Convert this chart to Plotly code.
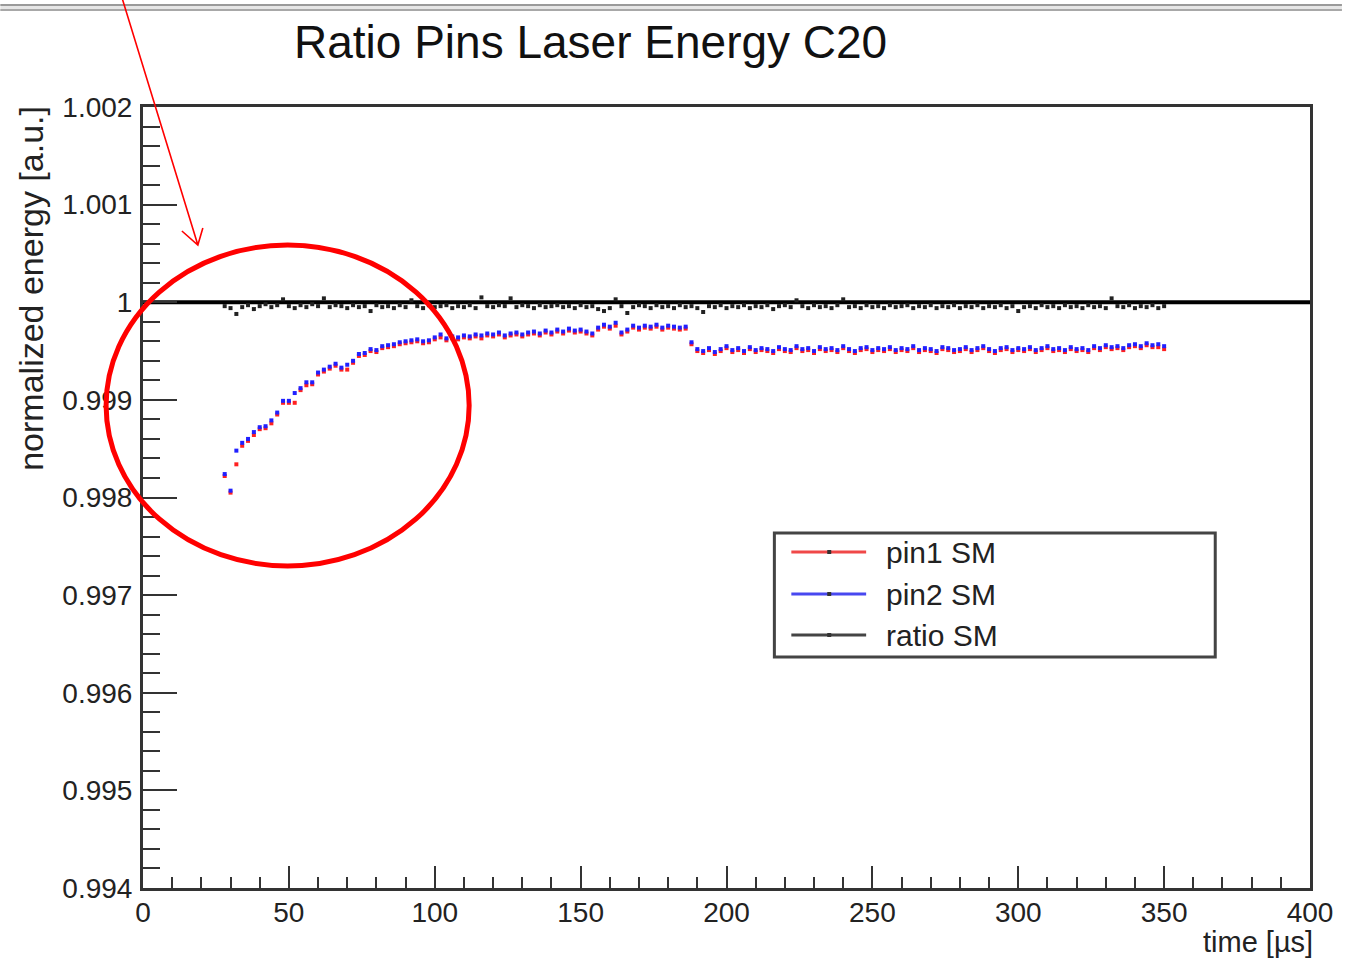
import plotly.graph_objects as go

# ---------------- data ----------------
time_us = list(range(28, 351, 2))

pin1_sm = [
    0.99822, 0.99805, 0.99834, 0.99853, 0.99858, 0.99864, 0.99870, 0.99871, 0.99876, 0.99885,
    0.99897, 0.99897, 0.99897, 0.99910, 0.99915, 0.99916, 0.99926, 0.99929, 0.99932, 0.99935,
    0.99931, 0.99931, 0.99938, 0.99945, 0.99946, 0.99950, 0.99949, 0.99953, 0.99954, 0.99955,
    0.99957, 0.99958, 0.99959, 0.99960, 0.99958, 0.99959, 0.99962, 0.99964, 0.99961, 0.99963,
    0.99962, 0.99964, 0.99963, 0.99965, 0.99963, 0.99966, 0.99965, 0.99967, 0.99964, 0.99966,
    0.99967, 0.99965, 0.99967, 0.99968, 0.99966, 0.99969, 0.99967, 0.99970, 0.99968, 0.99971,
    0.99969, 0.99970, 0.99968, 0.99966, 0.99972, 0.99975, 0.99973, 0.99976, 0.99967, 0.99970,
    0.99974, 0.99972, 0.99974, 0.99973, 0.99975, 0.99972, 0.99974, 0.99973, 0.99972, 0.99973,
    0.99957, 0.99950, 0.99948, 0.99951, 0.99947, 0.99950, 0.99953, 0.99949, 0.99951, 0.99948,
    0.99952, 0.99949, 0.99951, 0.99950, 0.99948, 0.99952, 0.99950, 0.99949, 0.99953, 0.99950,
    0.99951, 0.99948, 0.99952, 0.99950, 0.99951, 0.99949, 0.99953, 0.99950, 0.99948, 0.99951,
    0.99952, 0.99949, 0.99951, 0.99950, 0.99952, 0.99949, 0.99951, 0.99950, 0.99953, 0.99949,
    0.99951, 0.99950, 0.99948, 0.99952, 0.99951, 0.99949, 0.99950, 0.99952, 0.99949, 0.99951,
    0.99953, 0.99950, 0.99948, 0.99951, 0.99952, 0.99949, 0.99951, 0.99950, 0.99952, 0.99949,
    0.99951, 0.99953, 0.99950, 0.99951, 0.99949, 0.99952, 0.99950, 0.99951, 0.99949, 0.99953,
    0.99951, 0.99954, 0.99952, 0.99953, 0.99951, 0.99954, 0.99955, 0.99953, 0.99956, 0.99954,
    0.99954, 0.99952,
]

pin2_sm = [
    0.99824, 0.99807, 0.99848, 0.99856, 0.99860, 0.99867, 0.99872, 0.99873, 0.99879, 0.99887,
    0.99899, 0.99899, 0.99907, 0.99912, 0.99918, 0.99918, 0.99928, 0.99931, 0.99934, 0.99937,
    0.99933, 0.99936, 0.99940, 0.99947, 0.99948, 0.99952, 0.99951, 0.99955, 0.99956, 0.99957,
    0.99959, 0.99960, 0.99961, 0.99962, 0.99960, 0.99961, 0.99964, 0.99967, 0.99963, 0.99965,
    0.99964, 0.99966, 0.99965, 0.99967, 0.99966, 0.99968, 0.99967, 0.99969, 0.99966, 0.99968,
    0.99969, 0.99967, 0.99969, 0.99970, 0.99968, 0.99971, 0.99969, 0.99972, 0.99970, 0.99973,
    0.99971, 0.99972, 0.99970, 0.99968, 0.99974, 0.99977, 0.99975, 0.99979, 0.99969, 0.99972,
    0.99976, 0.99974, 0.99976, 0.99975, 0.99977, 0.99974, 0.99976, 0.99975, 0.99974, 0.99975,
    0.99959, 0.99952, 0.99950, 0.99953, 0.99949, 0.99952, 0.99955, 0.99951, 0.99953, 0.99950,
    0.99954, 0.99951, 0.99953, 0.99952, 0.99950, 0.99954, 0.99952, 0.99951, 0.99955, 0.99952,
    0.99953, 0.99950, 0.99954, 0.99952, 0.99953, 0.99951, 0.99955, 0.99952, 0.99950, 0.99953,
    0.99954, 0.99951, 0.99953, 0.99952, 0.99954, 0.99951, 0.99953, 0.99952, 0.99955, 0.99951,
    0.99953, 0.99952, 0.99950, 0.99954, 0.99953, 0.99951, 0.99952, 0.99954, 0.99951, 0.99953,
    0.99955, 0.99952, 0.99950, 0.99953, 0.99954, 0.99951, 0.99953, 0.99952, 0.99954, 0.99951,
    0.99953, 0.99955, 0.99952, 0.99953, 0.99951, 0.99954, 0.99952, 0.99953, 0.99951, 0.99955,
    0.99953, 0.99956, 0.99954, 0.99955, 0.99953, 0.99956, 0.99957, 0.99955, 0.99958, 0.99956,
    0.99957, 0.99955,
]

ratio_sm = [
    0.99996, 0.99994, 0.99988, 0.99995, 0.99997, 0.99993, 0.99996, 0.99998, 0.99995, 0.99997,
    1.00003, 0.99996, 0.99994, 0.99997, 0.99995, 0.99998, 0.99996, 1.00004, 0.99995, 0.99997,
    0.99996, 0.99994, 0.99997, 0.99995, 0.99996, 0.99991, 0.99997, 0.99995, 0.99996, 0.99994,
    0.99997, 0.99995, 1.00002, 0.99996, 0.99994, 0.99997, 0.99995, 0.99996, 0.99997, 0.99994,
    0.99996, 0.99995, 0.99997, 0.99994, 1.00005, 0.99996, 0.99995, 0.99997, 0.99996, 1.00004,
    0.99995, 0.99997, 0.99996, 0.99994, 0.99997, 0.99995, 0.99996, 0.99997, 0.99995, 0.99996,
    0.99994, 0.99997, 0.99995, 0.99996, 0.99993, 0.99991, 0.99994, 1.00003, 0.99996, 0.99989,
    0.99995, 0.99997, 0.99996, 0.99994, 0.99997, 0.99995, 0.99996, 0.99994, 0.99997, 0.99995,
    0.99996, 0.99994, 0.99990, 0.99996, 0.99995, 0.99997, 0.99994, 0.99996, 0.99995, 0.99997,
    0.99994, 0.99996, 0.99995, 0.99997, 0.99993, 0.99996, 0.99997, 0.99995, 1.00002, 0.99996,
    0.99994, 0.99997, 0.99995, 0.99996, 0.99994, 0.99997, 1.00003, 0.99995, 0.99996, 0.99994,
    0.99997, 0.99995, 0.99996, 0.99994, 0.99997, 0.99995, 0.99996, 0.99997, 0.99994, 0.99996,
    0.99995, 0.99997, 0.99994, 0.99996, 0.99995, 0.99997, 0.99994, 0.99996, 0.99995, 0.99997,
    0.99994, 0.99996, 0.99995, 0.99997, 0.99994, 0.99996, 0.99991, 0.99995, 0.99996, 0.99994,
    0.99997, 0.99995, 0.99996, 0.99994, 0.99997, 0.99995, 0.99996, 0.99994, 0.99997, 0.99995,
    0.99996, 0.99994, 1.00004, 0.99996, 0.99995, 0.99997, 0.99994, 0.99996, 0.99995, 0.99997,
    0.99994, 0.99996,
]

reference_level = 1.0
x_range = [0, 400]
y_range = [0.994, 1.002]

series_names = ["pin1 SM", "pin2 SM", "ratio SM"]
series_colors = ["#ff2020", "#2020ff", "#222222"]
legend_line_colors = ["#f04848", "#4848f0", "#444444"]

title_text = "Ratio Pins Laser Energy C20"
x_title = "time [µs]"
y_title = "normalized energy [a.u.]"

FONT = "Liberation Sans, Arial, Helvetica, sans-serif"

# ---------------- figure ----------------
W, H = 1345, 968
L, R, T, B = 143, 32, 107, 80
PW, PH = W - L - R, H - T - B


def px(xp):
    return (xp - L) / PW


def py(yp):
    return (H - B - yp) / PH


fig = go.Figure()

fig.add_trace(go.Scatter(
    x=x_range, y=[reference_level, reference_level], mode="lines",
    line=dict(color="black", width=4), showlegend=False, hoverinfo="skip"))

for name, vals, col in zip(series_names, [pin1_sm, pin2_sm, ratio_sm], series_colors):
    fig.add_trace(go.Scatter(
        x=time_us, y=vals, mode="markers", name=name,
        marker=dict(symbol="square", size=4, color=col, line=dict(width=0)),
        showlegend=False))

shapes = []
annotations = []

# screenshot border lines at the very top
shapes.append(dict(type="rect", xref="paper", yref="paper", x0=px(0), x1=px(W),
                   y0=py(11), y1=py(4), fillcolor="#e6e6e6", line=dict(width=0), layer="above"))
shapes.append(dict(type="line", xref="paper", yref="paper", x0=px(0), x1=px(W),
                   y0=py(5), y1=py(5), line=dict(color="#9a9a9a", width=2)))
shapes.append(dict(type="line", xref="paper", yref="paper", x0=px(0), x1=px(W),
                   y0=py(10), y1=py(10), line=dict(color="#a8a8a8", width=2)))

# legend box (drawn manually to mimic ROOT TLegend)
shapes.append(dict(type="rect", xref="paper", yref="paper", x0=px(776), x1=px(1218),
                   y0=py(657), y1=py(533), fillcolor="white",
                   line=dict(color="#444444", width=3), layer="above"))
legend_rows = [552, 594, 635]
for name, col, yrow in zip(series_names, legend_line_colors, legend_rows):
    shapes.append(dict(type="line", xref="paper", yref="paper", x0=px(793), x1=px(868),
                       y0=py(yrow), y1=py(yrow), line=dict(color=col, width=3), layer="above"))
    shapes.append(dict(type="rect", xref="paper", yref="paper", x0=px(829), x1=px(833),
                       y0=py(yrow + 2), y1=py(yrow - 2), fillcolor="#333333",
                       line=dict(width=0), layer="above"))
    annotations.append(dict(xref="paper", yref="paper", x=px(886), y=py(yrow),
                            xanchor="left", yanchor="middle", text=name, showarrow=False,
                            font=dict(family=FONT, size=30, color="#222222")))

# red hand-drawn highlight: circle + arrow
shapes.append(dict(type="circle", xref="paper", yref="paper", x0=px(106), x1=px(470),
                   y0=py(566), y1=py(245), line=dict(color="#ff0000", width=5), layer="above"))
arrow_path = (f"M{px(122):.5f},{py(-2):.5f}L{px(198):.5f},{py(245):.5f}"
              f"M{px(182):.5f},{py(231):.5f}L{px(198):.5f},{py(245):.5f}L{px(203):.5f},{py(228):.5f}")
shapes.append(dict(type="path", xref="paper", yref="paper", path=arrow_path,
                   line=dict(color="#ff0000", width=1.6), layer="above"))

# titles
annotations.append(dict(xref="paper", yref="paper", x=px(592), y=py(42),
                        xanchor="center", yanchor="middle", text=title_text, showarrow=False,
                        font=dict(family=FONT, size=46, color="#111111")))
annotations.append(dict(xref="paper", yref="paper", x=px(1318), y=py(942),
                        xanchor="right", yanchor="middle", text=x_title, showarrow=False,
                        font=dict(family=FONT, size=29, color="#222222")))
annotations.append(dict(xref="paper", yref="paper", x=px(30), y=py(104),
                        xanchor="center", yanchor="top", text=y_title, showarrow=False,
                        textangle=-90,
                        font=dict(family=FONT, size=34, color="#222222")))

fig.update_layout(
    width=W, height=H, autosize=False,
    margin=dict(l=L, r=R, t=T, b=B, pad=0),
    paper_bgcolor="white", plot_bgcolor="white",
    showlegend=False,
    shapes=shapes, annotations=annotations,
    font=dict(family=FONT, color="#222222"),
)

fig.update_xaxes(
    range=x_range, showgrid=False, zeroline=False,
    showline=True, linecolor="#333333", linewidth=3, mirror=True,
    ticks="inside", ticklen=22, tickwidth=2, tickcolor="#333333",
    tick0=0, dtick=50,
    minor=dict(ticks="inside", ticklen=11, tickwidth=2, tickcolor="#333333", dtick=10),
    tickfont=dict(family=FONT, size=28, color="#222222"),
    ticklabelstandoff=-3,
)
fig.update_yaxes(
    range=y_range, showgrid=False, zeroline=False,
    showline=True, linecolor="#333333", linewidth=3, mirror=True,
    ticks="inside", ticklen=34, tickwidth=2, tickcolor="#333333",
    tick0=0.994, dtick=0.001, tickformat=".3~f",
    minor=dict(ticks="inside", ticklen=17, tickwidth=2, tickcolor="#333333", dtick=0.0002),
    tickfont=dict(family=FONT, size=28, color="#222222"),
    ticklabelstandoff=2,
)

fig.write_html("out.html")
